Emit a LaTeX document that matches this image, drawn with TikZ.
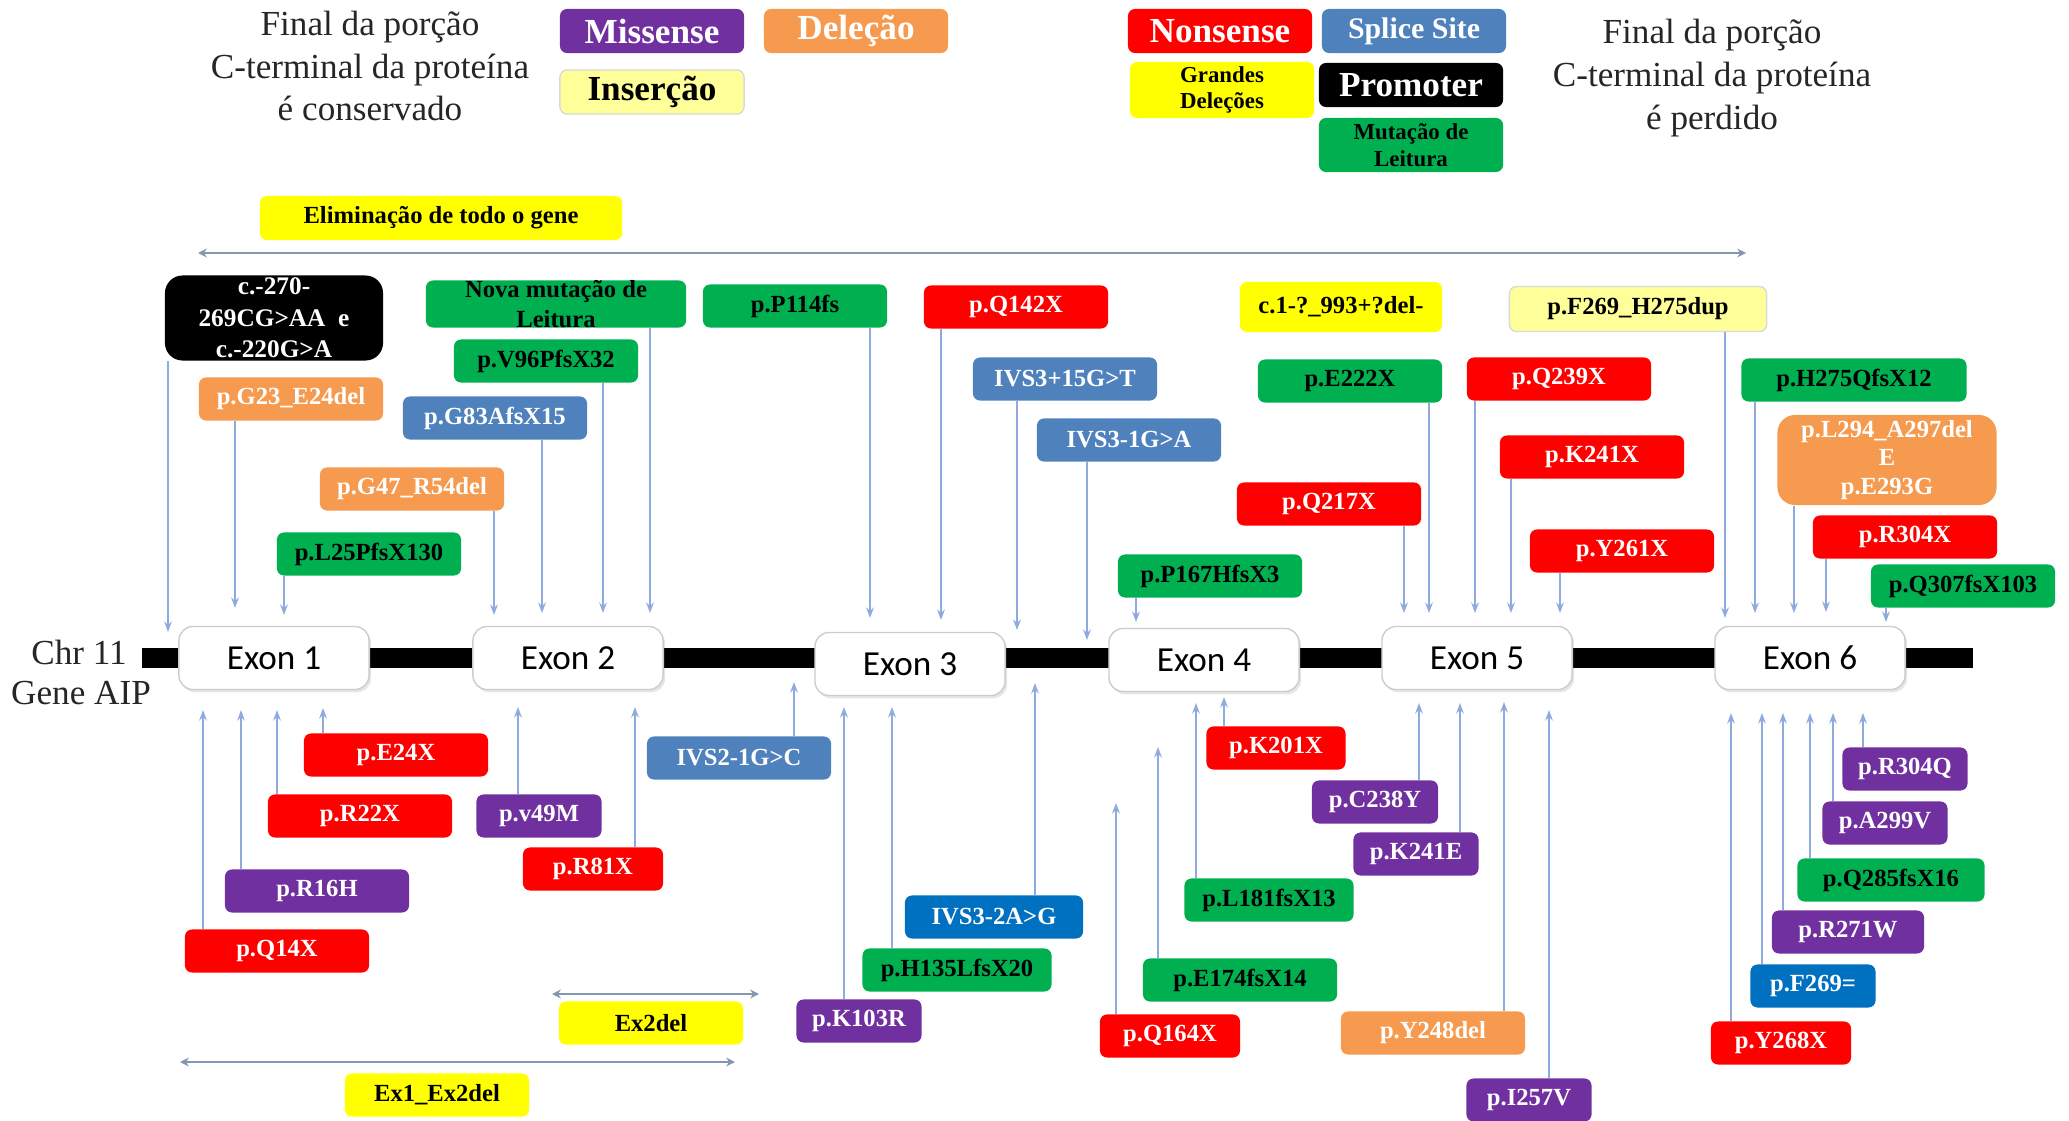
\documentclass[tikz,border=0pt]{standalone}
\usepackage{fontspec}
\setmainfont{Liberation Serif}
\newfontfamily\exonfont{Carlito}
\usetikzlibrary{arrows.meta,shadows}

\definecolor{misscol}{HTML}{7030A0}
\definecolor{delcol}{HTML}{F59A4E}
\definecolor{inscol}{HTML}{FFFF99}
\definecolor{nonscol}{HTML}{FF0000}
\definecolor{splcol}{HTML}{4F81BD}
\definecolor{splbcol}{HTML}{0070C0}
\definecolor{bigcol}{HTML}{FFFF00}
\definecolor{readcol}{HTML}{00B050}
\definecolor{arrcol}{HTML}{8FAADC}
\definecolor{rangecol}{HTML}{8497B0}

\begin{document}
\begin{tikzpicture}[x=0.01cm, y=-0.01cm,
    mut/.style={rounded corners=2pt, minimum width=1.84cm, minimum height=0.43cm, inner sep=0pt,
                align=center, font=\bfseries\fontsize{7}{8.5}\selectfont},
    legend/.style={mut, minimum height=0.44cm, font=\bfseries\fontsize{10}{12}\selectfont},
    missbox/.style={fill=misscol, text=white},
    delbox/.style={fill=delcol, text=white},
    insbox/.style={fill=inscol, draw=black!15},
    nonsbox/.style={fill=nonscol, text=white},
    splbox/.style={fill=splcol, text=white},
    splbbox/.style={fill=splbcol, text=white},
    bigbox/.style={fill=bigcol},
    readbox/.style={fill=readcol},
    promobox/.style={fill=black, text=white},
    exon/.style={draw=black!20, fill=white, rounded corners=4pt, minimum width=1.9cm, minimum height=0.63cm,
                 font=\exonfont\fontsize{10}{12}\selectfont,
                 drop shadow={shadow xshift=0.6pt, shadow yshift=-0.8pt, opacity=0.2}},
    mutline/.style={draw=arrcol, line width=0.4pt, -{Stealth[length=3pt, width=2.2pt]}},
    rangeline/.style={draw=rangecol, line width=0.7pt, {Stealth[length=2.5pt, width=2.5pt]}-{Stealth[length=2.5pt, width=2.5pt]}},
    note/.style={align=center, text=black!85, font=\fontsize{10}{12.2}\selectfont}]

    \useasboundingbox (0,0) rectangle (2069,1121);

    % legend
    \node[note] (keep) at (370,66) {Final da porção\\C-terminal da proteína\\é conservado};
    \node[note] (lost) at (1712,78) {Final da porção\\C-terminal da proteína\\é perdido};
    \node[legend, missbox] (lmiss) at (652,31)  {Missense};
    \node[legend, delbox]  (ldel)  at (856,31)  {Deleção};
    \node[legend, insbox]  (lins)  at (652,92)  {Inserção};
    \node[legend, nonsbox] (lnons) at (1220,31) {Nonsense};
    \node[legend, splbox, font=\bfseries\fontsize{8.5}{10}\selectfont] (lspl) at (1414,31) {Splice Site};
    \node[legend, bigbox, minimum height=0.56cm, font=\bfseries\fontsize{6.5}{7.6}\selectfont] (lbig) at (1222,90) {Grandes\\Deleções};
    \node[legend, promobox] (lprom) at (1411,85) {Promoter};
    \node[legend, readbox, minimum height=0.54cm, font=\bfseries\fontsize{6.5}{7.6}\selectfont] (lread) at (1411,145) {Mutação de\\Leitura};

    % gene
    \draw[line width=0.2cm] (142,658) -- (1973,658);
    \node[note] (chr)  at (79,652) {Chr 11};
    \node[note] (gene) at (81,693) {Gene AIP};
    \node[exon] (ex1) at (274,658)  {Exon 1};
    \node[exon] (ex2) at (568,658)  {Exon 2};
    \node[exon] (ex3) at (910,664)  {Exon 3};
    \node[exon] (ex4) at (1204,660) {Exon 4};
    \node[exon] (ex5) at (1477,658) {Exon 5};
    \node[exon] (ex6) at (1810,658) {Exon 6};

    % large deletions
    \node[mut, bigbox, minimum width=3.62cm, minimum height=0.44cm] (whole) at (441,218) {Eliminação de todo o gene};
    \coordinate (whole-l) at (198,253);  \coordinate (whole-r) at (1746,253);
    \draw[rangeline] (whole-l) -- (whole-r);
    \node[mut, bigbox] (ex2del) at (651,1023) {Ex2del};
    \coordinate (ex2-l) at (552,994);    \coordinate (ex2-r) at (759,994);
    \draw[rangeline] (ex2-l) -- (ex2-r);
    \node[mut, bigbox] (ex12del) at (437,1095) {Ex1\_Ex2del};
    \coordinate (ex12-l) at (180,1062);  \coordinate (ex12-r) at (735,1062);
    \draw[rangeline] (ex12-l) -- (ex12-r);

    % mutations above the gene
    \node[mut, promobox, minimum width=2.18cm, minimum height=0.85cm, rounded corners=5pt,
          font=\bfseries\fontsize{7.2}{9}\selectfont] (prom) at (274,318) {c.-270-\\269CG>AA\ \ e\\c.-220G>A};
    \node[mut, readbox, minimum width=2.6cm, minimum height=0.47cm,
          label={[align=center, font=\bfseries\fontsize{7}{8.5}\selectfont]center:{Nova mutação de\\Leitura}}] (nova) at (556,304) {};
    \node[mut, readbox] (v96)  at (546,361)  {p.V96PfsX32};
    \node[mut, readbox] (p114) at (795,306)  {p.P114fs};
    \node[mut, nonsbox] (q142) at (1016,307) {p.Q142X};
    \node[mut, bigbox, minimum width=2.02cm, minimum height=0.5cm] (c1del) at (1341,307) {c.1-?\_993+?del-};
    \node[mut, insbox, minimum width=2.57cm, minimum height=0.45cm] (f269dup) at (1638,309) {p.F269\_H275dup};
    \node[mut, delbox]  (g23)  at (291,399)  {p.G23\_E24del};
    \node[mut, splbox]  (g83)  at (495,418)  {p.G83AfsX15};
    \node[mut, delbox]  (g47)  at (412,489)  {p.G47\_R54del};
    \node[mut, readbox] (l25)  at (369,554)  {p.L25PfsX130};
    \node[mut, splbox]  (ivs3p15) at (1065,379) {IVS3+15G>T};
    \node[mut, splbox]  (ivs3m1)  at (1129,440) {IVS3-1G>A};
    \node[mut, readbox] (p167) at (1210,576) {p.P167HfsX3};
    \node[mut, readbox] (e222) at (1350,381) {p.E222X};
    \node[mut, nonsbox] (q217) at (1329,504) {p.Q217X};
    \node[mut, nonsbox] (q239) at (1559,379) {p.Q239X};
    \node[mut, nonsbox] (k241x) at (1592,457) {p.K241X};
    \node[mut, nonsbox] (y261) at (1622,551) {p.Y261X};
    \node[mut, readbox, minimum width=2.25cm] (h275) at (1854,380) {p.H275QfsX12};
    \node[mut, delbox, minimum width=2.19cm, minimum height=0.9cm, rounded corners=5pt,
          font=\bfseries\fontsize{7}{8}\selectfont] (l294) at (1887,460) {p.L294\_A297del\\E\\p.E293G};
    \node[mut, nonsbox] (r304x) at (1905,537) {p.R304X};
    \node[mut, readbox] (q307) at (1963,586) {p.Q307fsX103};

    \coordinate (t-prom) at (168,632);   \coordinate (t-g23) at (235,608);
    \coordinate (t-l25) at (284,615);    \coordinate (t-g47) at (494,615);
    \coordinate (t-g83) at (542,613);    \coordinate (t-v96) at (603,613);
    \coordinate (t-nova) at (650,613);   \coordinate (t-p114) at (870,618);
    \coordinate (t-q142) at (941,620);   \coordinate (t-ivs3p15) at (1017,630);
    \coordinate (t-ivs3m1) at (1087,640); \coordinate (t-p167) at (1136,622);
    \coordinate (t-q217) at (1404,613);  \coordinate (t-e222) at (1429,613);
    \coordinate (t-q239) at (1475,613);  \coordinate (t-k241x) at (1511,613);
    \coordinate (t-y261) at (1560,613);  \coordinate (t-f269dup) at (1725,618);
    \coordinate (t-h275) at (1755,613);  \coordinate (t-l294) at (1794,613);
    \coordinate (t-r304x) at (1826,612); \coordinate (t-q307) at (1886,622);

    \draw[mutline] (prom.south -| t-prom) -- (t-prom);
    \draw[mutline] (g23.south -| t-g23) -- (t-g23);
    \draw[mutline] (l25.south -| t-l25) -- (t-l25);
    \draw[mutline] (g47.south -| t-g47) -- (t-g47);
    \draw[mutline] (g83.south -| t-g83) -- (t-g83);
    \draw[mutline] (v96.south -| t-v96) -- (t-v96);
    \draw[mutline] (nova.south -| t-nova) -- (t-nova);
    \draw[mutline] (p114.south -| t-p114) -- (t-p114);
    \draw[mutline] (q142.south -| t-q142) -- (t-q142);
    \draw[mutline] (ivs3p15.south -| t-ivs3p15) -- (t-ivs3p15);
    \draw[mutline] (ivs3m1.south -| t-ivs3m1) -- (t-ivs3m1);
    \draw[mutline] (p167.south -| t-p167) -- (t-p167);
    \draw[mutline] (q217.south -| t-q217) -- (t-q217);
    \draw[mutline] (e222.south -| t-e222) -- (t-e222);
    \draw[mutline] (q239.south -| t-q239) -- (t-q239);
    \draw[mutline] (k241x.south -| t-k241x) -- (t-k241x);
    \draw[mutline] (y261.south -| t-y261) -- (t-y261);
    \draw[mutline] (f269dup.south -| t-f269dup) -- (t-f269dup);
    \draw[mutline] (h275.south -| t-h275) -- (t-h275);
    \draw[mutline] (l294.south -| t-l294) -- (t-l294);
    \draw[mutline] (r304x.south -| t-r304x) -- (t-r304x);
    \draw[mutline] (q307.south -| t-q307) -- (t-q307);

    % mutations below the gene
    \node[mut, nonsbox] (e24x) at (396,755) {p.E24X};
    \node[mut, nonsbox] (r22x) at (360,816) {p.R22X};
    \node[mut, missbox] (r16h) at (317,891) {p.R16H};
    \node[mut, nonsbox] (q14x) at (277,951) {p.Q14X};
    \node[mut, missbox, minimum width=1.25cm] (v49m) at (539,816) {p.v49M};
    \node[mut, nonsbox, minimum width=1.4cm]  (r81x) at (593,869) {p.R81X};
    \node[mut, splbox]  (ivs2) at (739,758) {IVS2-1G>C};
    \node[mut, missbox, minimum width=1.25cm] (k103r) at (859,1021) {p.K103R};
    \node[mut, readbox, minimum width=1.89cm] (h135) at (957,970) {p.H135LfsX20};
    \node[mut, splbbox, minimum width=1.78cm] (ivs3m2) at (994,917) {IVS3-2A>G};
    \node[mut, nonsbox, minimum width=1.4cm]  (q164x) at (1170,1036) {p.Q164X};
    \node[mut, readbox, minimum width=1.94cm] (e174) at (1240,980) {p.E174fsX14};
    \node[mut, readbox, minimum width=1.69cm] (l181) at (1269,900) {p.L181fsX13};
    \node[mut, nonsbox, minimum width=1.39cm] (k201x) at (1276,748) {p.K201X};
    \node[mut, missbox, minimum width=1.26cm] (c238y) at (1375,802) {p.C238Y};
    \node[mut, missbox, minimum width=1.25cm] (k241e) at (1416,854) {p.K241E};
    \node[mut, delbox]  (y248) at (1433,1033) {p.Y248del};
    \node[mut, missbox, minimum width=1.25cm] (i257v) at (1529,1100) {p.I257V};
    \node[mut, nonsbox, minimum width=1.4cm]  (y268x) at (1781,1043) {p.Y268X};
    \node[mut, splbbox, minimum width=1.25cm] (f269eq) at (1813,986) {p.F269=};
    \node[mut, missbox, minimum width=1.52cm] (r271w) at (1848,932) {p.R271W};
    \node[mut, readbox, minimum width=1.87cm] (q285) at (1891,880) {p.Q285fsX16};
    \node[mut, missbox, minimum width=1.25cm] (a299v) at (1885,823) {p.A299V};
    \node[mut, missbox, minimum width=1.25cm] (r304q) at (1905,769) {p.R304Q};

    \coordinate (t-q14x) at (203,710);   \coordinate (t-r16h) at (241,710);
    \coordinate (t-r22x) at (277,710);   \coordinate (t-e24x) at (323,708);
    \coordinate (t-v49m) at (518,707);   \coordinate (t-r81x) at (635,707);
    \coordinate (t-ivs2) at (794,682);   \coordinate (t-k103r) at (844,707);
    \coordinate (t-h135) at (892,707);   \coordinate (t-ivs3m2) at (1035,683);
    \coordinate (t-q164x) at (1116,803); \coordinate (t-e174) at (1158,747);
    \coordinate (t-l181) at (1196,703);  \coordinate (t-k201x) at (1224,697);
    \coordinate (t-c238y) at (1419,703); \coordinate (t-k241e) at (1460,703);
    \coordinate (t-y248) at (1504,702);  \coordinate (t-i257v) at (1549,710);
    \coordinate (t-y268x) at (1731,713); \coordinate (t-f269eq) at (1762,713);
    \coordinate (t-r271w) at (1783,713); \coordinate (t-q285) at (1810,713);
    \coordinate (t-a299v) at (1833,713); \coordinate (t-r304q) at (1863,713);

    \draw[mutline] (q14x.north -| t-q14x) -- (t-q14x);
    \draw[mutline] (r16h.north -| t-r16h) -- (t-r16h);
    \draw[mutline] (r22x.north -| t-r22x) -- (t-r22x);
    \draw[mutline] (e24x.north -| t-e24x) -- (t-e24x);
    \draw[mutline] (v49m.north -| t-v49m) -- (t-v49m);
    \draw[mutline] (r81x.north -| t-r81x) -- (t-r81x);
    \draw[mutline] (ivs2.north -| t-ivs2) -- (t-ivs2);
    \draw[mutline] (k103r.north -| t-k103r) -- (t-k103r);
    \draw[mutline] (h135.north -| t-h135) -- (t-h135);
    \draw[mutline] (ivs3m2.north -| t-ivs3m2) -- (t-ivs3m2);
    \draw[mutline] (q164x.north -| t-q164x) -- (t-q164x);
    \draw[mutline] (e174.north -| t-e174) -- (t-e174);
    \draw[mutline] (l181.north -| t-l181) -- (t-l181);
    \draw[mutline] (k201x.north -| t-k201x) -- (t-k201x);
    \draw[mutline] (c238y.north -| t-c238y) -- (t-c238y);
    \draw[mutline] (k241e.north -| t-k241e) -- (t-k241e);
    \draw[mutline] (y248.north -| t-y248) -- (t-y248);
    \draw[mutline] (i257v.north -| t-i257v) -- (t-i257v);
    \draw[mutline] (y268x.north -| t-y268x) -- (t-y268x);
    \draw[mutline] (f269eq.north -| t-f269eq) -- (t-f269eq);
    \draw[mutline] (r271w.north -| t-r271w) -- (t-r271w);
    \draw[mutline] (q285.north -| t-q285) -- (t-q285);
    \draw[mutline] (a299v.north -| t-a299v) -- (t-a299v);
    \draw[mutline] (r304q.north -| t-r304q) -- (t-r304q);
\end{tikzpicture}
\end{document}
